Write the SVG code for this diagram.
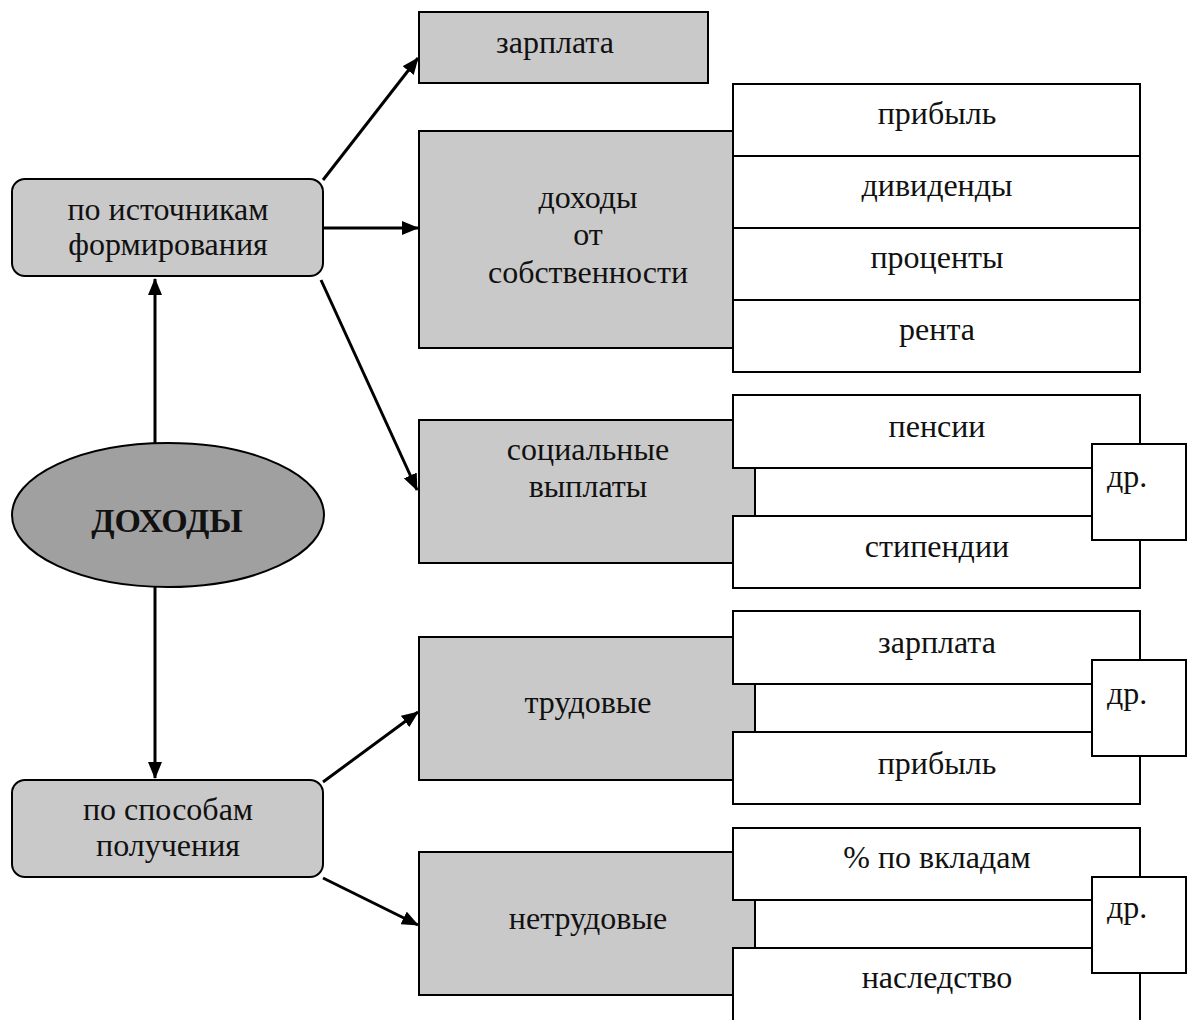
<svg xmlns="http://www.w3.org/2000/svg" width="1188" height="1020" viewBox="0 0 1188 1020">
<style>
.g{fill:#c9c9c9;stroke:#000;stroke-width:2}
.w{fill:#fff;stroke:#000;stroke-width:2}
.e{fill:#a0a0a0;stroke:#000;stroke-width:2}
.c{stroke:#000;stroke-width:3;fill:none}
text{font-family:"Liberation Serif","Times New Roman",serif;font-size:32px;fill:#111;text-anchor:middle}
.b{font-weight:bold;font-size:34px}
.s{text-anchor:start}
</style>
<defs>
<marker id="ah" markerUnits="userSpaceOnUse" markerWidth="18" markerHeight="14" refX="16" refY="7" orient="auto">
<path d="M0,0 L17,7 L0,14 z" fill="#000"/>
</marker>
</defs>
<rect width="1188" height="1020" fill="#fff"/>
<g id="connectors">
<line class="c" x1="155" y1="444" x2="155" y2="279" marker-end="url(#ah)"/>
<line class="c" x1="155" y1="587" x2="155" y2="778" marker-end="url(#ah)"/>
<line class="c" x1="323" y1="180" x2="418" y2="58" marker-end="url(#ah)"/>
<line class="c" x1="323" y1="228" x2="418" y2="228" marker-end="url(#ah)"/>
<line class="c" x1="321" y1="280" x2="417" y2="490" marker-end="url(#ah)"/>
<line class="c" x1="323" y1="782" x2="418" y2="712" marker-end="url(#ah)"/>
<line class="c" x1="323" y1="878" x2="418" y2="925" marker-end="url(#ah)"/>
</g>
<g id="src">
<rect class="g" x="12" y="179" width="311" height="97" rx="13"/>
<text x="168" y="220">по источникам</text>
<text x="168" y="255">формирования</text>
</g>
<g id="dohody">
<ellipse class="e" cx="168" cy="515" rx="156" ry="72"/>
<text class="b" x="167" y="532">ДОХОДЫ</text>
</g>
<g id="way">
<rect class="g" x="12" y="780" width="311" height="97" rx="13"/>
<text x="168" y="820">по способам</text>
<text x="168" y="856">получения</text>
</g>
<g id="zarplata1">
<rect class="g" x="419" y="12" width="289" height="71"/>
<text x="555" y="53">зарплата</text>
</g>
<g id="property">
<rect class="g" x="419" y="131" width="320" height="217"/>
<text x="588" y="208">доходы</text>
<text x="588" y="245">от</text>
<text x="588" y="283">собственности</text>
</g>
<g id="pribyl1"><rect class="w" x="733" y="84" width="407" height="72"/><text x="937" y="124">прибыль</text></g>
<g id="dividends"><rect class="w" x="733" y="156" width="407" height="72"/><text x="937" y="196">дивиденды</text></g>
<g id="percents"><rect class="w" x="733" y="228" width="407" height="72"/><text x="937" y="268">проценты</text></g>
<g id="rent"><rect class="w" x="733" y="300" width="407" height="72"/><text x="937" y="340">рента</text></g>
<g id="social">
<rect class="g" x="419" y="420" width="336" height="143"/>
<text x="588" y="460">социальные</text>
<text x="588" y="497">выплаты</text>
</g>
<g id="pensions"><rect class="w" x="733" y="395" width="407" height="73"/><text x="937" y="437">пенсии</text></g>
<g id="stipends"><rect class="w" x="733" y="516" width="407" height="72"/><text x="937" y="557">стипендии</text></g>
<g id="other1"><rect class="w" x="1092" y="444" width="94" height="96"/><text class="s" x="1107" y="487">др.</text></g>
<g id="labor">
<rect class="g" x="419" y="637" width="336" height="143"/>
<text x="588" y="713">трудовые</text>
</g>
<g id="zarplata2"><rect class="w" x="733" y="611" width="407" height="73"/><text x="937" y="653">зарплата</text></g>
<g id="pribyl2"><rect class="w" x="733" y="732" width="407" height="72"/><text x="937" y="774">прибыль</text></g>
<g id="other2"><rect class="w" x="1092" y="660" width="94" height="96"/><text class="s" x="1107" y="704">др.</text></g>
<g id="nonlabor">
<rect class="g" x="419" y="852" width="336" height="143"/>
<text x="588" y="929">нетрудовые</text>
</g>
<g id="deposits"><rect class="w" x="733" y="828" width="407" height="72"/><text x="937" y="868">% по вкладам</text></g>
<g id="inheritance"><rect class="w" x="733" y="948" width="407" height="80"/><text x="937" y="988">наследство</text></g>
<g id="other3"><rect class="w" x="1092" y="877" width="94" height="96"/><text class="s" x="1107" y="918">др.</text></g>
</svg>
